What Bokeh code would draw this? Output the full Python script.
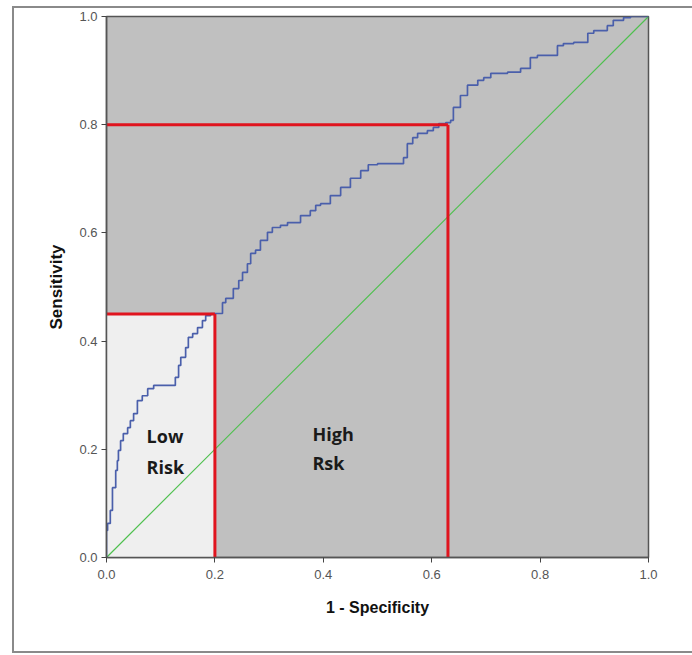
from bokeh.plotting import figure
from bokeh.models import Range1d, FixedTicker
from bokeh.core.properties import value
from bokeh.embed import file_html
from bokeh.resources import INLINE

# ROC curve (1 - specificity, sensitivity)
fpr = [0.0, 0.002, 0.007, 0.011, 0.017, 0.020, 0.022, 0.026, 0.031, 0.039, 0.044, 0.050,
       0.057, 0.066, 0.076, 0.087, 0.100, 0.127, 0.133, 0.137, 0.146, 0.151, 0.159, 0.168,
       0.177, 0.183, 0.192, 0.197, 0.214, 0.220, 0.234, 0.244, 0.251, 0.260, 0.266, 0.275,
       0.284, 0.297, 0.306, 0.321, 0.334, 0.358, 0.376, 0.386, 0.395, 0.413, 0.432, 0.450,
       0.469, 0.483, 0.500, 0.548, 0.555, 0.565, 0.574, 0.592, 0.603, 0.613, 0.626, 0.635,
       0.640, 0.653, 0.666, 0.685, 0.696, 0.709, 0.740, 0.764, 0.782, 0.795, 0.832, 0.843,
       0.862, 0.888, 0.899, 0.924, 0.935, 0.954, 0.967, 1.0]
tpr = [0.0, 0.050, 0.063, 0.087, 0.129, 0.161, 0.179, 0.198, 0.216, 0.229, 0.240, 0.253,
       0.266, 0.290, 0.299, 0.312, 0.318, 0.318, 0.333, 0.355, 0.370, 0.388, 0.407, 0.414,
       0.425, 0.438, 0.447, 0.451, 0.451, 0.471, 0.479, 0.497, 0.512, 0.527, 0.543, 0.562,
       0.568, 0.586, 0.601, 0.610, 0.614, 0.619, 0.632, 0.641, 0.651, 0.654, 0.669, 0.684,
       0.701, 0.715, 0.726, 0.728, 0.739, 0.765, 0.776, 0.784, 0.789, 0.795, 0.802, 0.804,
       0.808, 0.832, 0.854, 0.873, 0.882, 0.887, 0.895, 0.897, 0.904, 0.924, 0.928, 0.946,
       0.950, 0.952, 0.969, 0.974, 0.983, 0.993, 0.998, 1.0]

# reference diagonal
diag_x = [0.0, 1.0]
diag_y = [0.0, 1.0]

# cut-off points (1 - specificity, sensitivity)
low_cut = (0.20, 0.45)
high_cut = (0.63, 0.80)

ticks = [0.0, 0.2, 0.4, 0.6, 0.8, 1.0]

region_words = ["Low", "Risk", "High", "Rsk"]

p = figure(width=692, height=654, output_backend="svg", toolbar_location=None,
           x_range=Range1d(0, 1), y_range=Range1d(0, 1),
           min_border_left=106, min_border_right=44, min_border_top=16, min_border_bottom=97)

p.background_fill_color = "#c0c0c0"
p.border_fill_color = None
p.outline_line_color = "#555555"
p.outline_line_width = 1.5
p.grid.visible = False

# outer frame of the picture (drawn as page background behind the transparent canvas)
_g = "linear-gradient(#8a8a8a,#8a8a8a)"
p.styles = {
    "background-color": "white",
    "background-image": f"{_g}, {_g}, {_g}",
    "background-position": "12px 6px, 12px 6px, 12px 651px",
    "background-size": "2px 647px, 720px 2px, 720px 2px",
    "background-repeat": "no-repeat, no-repeat, no-repeat",
}

# light low-risk zone
p.quad(left=[0], right=[low_cut[0]], bottom=[0], top=[low_cut[1]],
       fill_color="#efefef", line_color=None)

# diagonal
p.line(diag_x, diag_y, line_color="#4fc04f", line_width=1.2)

# ROC curve
p.step(fpr, tpr, mode="before", line_color="#4a5fab", line_width=1.7)

# red cut-off lines
p.segment(x0=[0, low_cut[0], 0, high_cut[0]],
          y0=[low_cut[1], 0, high_cut[1], 0],
          x1=[low_cut[0], low_cut[0], high_cut[0], high_cut[0]],
          y1=[low_cut[1], low_cut[1], high_cut[1], high_cut[1]],
          line_color="#e0141e", line_width=3)

# region labels
p.text(x=[0.074, 0.074, 0.380, 0.380], y=[0.246, 0.189, 0.251, 0.196], text=region_words,
       text_font=value("Open Sans"), text_font_style="bold", text_font_size="18px",
       text_color="#1a1a1a", text_baseline="top", text_align="left")

for ax in (p.xaxis[0], p.yaxis[0]):
    ax.ticker = FixedTicker(ticks=ticks)
    ax.minor_tick_line_color = None
    ax.major_tick_in = 0
    ax.major_tick_out = 5
    ax.major_tick_line_color = "#444444"
    ax.axis_line_color = "#555555"
    ax.axis_line_width = 1.5
    ax.major_label_text_font = "Liberation Sans"
    ax.major_label_text_font_size = "13px"
    ax.major_label_text_color = "#555555"
    ax.axis_label_text_font = "Liberation Sans"
    ax.axis_label_text_font_style = "bold"
    ax.axis_label_text_color = "#111111"

p.xaxis[0].axis_label_text_font_size = "16px"
p.yaxis[0].axis_label_text_font_size = "17px"
p.xaxis[0].major_label_overrides = {t: f"{t:.1f}" for t in ticks}
p.yaxis[0].major_label_overrides = {t: f"{t:.1f}" for t in ticks}
p.xaxis[0].axis_label = "1 - Specificity"
p.yaxis[0].axis_label = "Sensitivity"
p.xaxis[0].major_label_standoff = 7
p.xaxis[0].axis_label_standoff = 17
p.yaxis[0].major_label_standoff = 4
p.yaxis[0].axis_label_standoff = 10

open("out.html", "w").write(file_html(p, INLINE))
